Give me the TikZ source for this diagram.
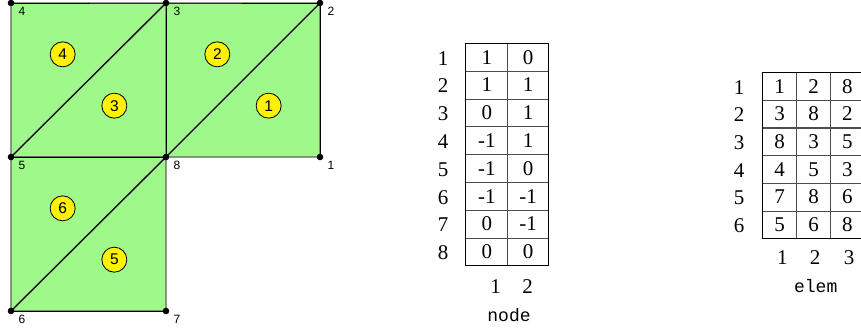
\documentclass[tikz,border=0pt]{standalone}
\usepackage{fontspec}
\setmainfont{Liberation Serif}
\setsansfont{Liberation Sans}
\setmonofont{Liberation Mono}
\usepackage{xcolor}
\usetikzlibrary{positioning, calc}
\definecolor{meshgreen}{RGB}{158,248,138}
\definecolor{edgegray}{RGB}{95,95,95}

\begin{document}
\begin{tikzpicture}[
  x=1pt, y=-1pt,
  tri/.style={fill=meshgreen, draw=edgegray, line width=1.4pt, line join=round},
  edge/.style={draw=black, line width=0.9pt},
  vtx/.style={circle, fill=black, inner sep=0pt, minimum size=6.6pt},
  vlab/.style={font=\sffamily\fontsize{12}{13}\selectfont, inner sep=0pt},
  elnum/.style={circle, draw=black, fill=yellow, line width=0.8pt, minimum size=25pt,
                inner sep=0pt, font=\sffamily\fontsize{15.5}{16}\selectfont},
  cell/.style={inner sep=0pt, minimum height=27.8pt, font=\fontsize{21}{22}\selectfont},
  idx/.style={inner sep=0pt, font=\fontsize{21}{22}\selectfont},
  tname/.style={inner sep=0pt, font=\ttfamily\fontsize{18}{18}\selectfont},
  tframe/.style={draw=black, line width=1pt},
  tline/.style={draw=black!70, line width=1.1pt}
]
\useasboundingbox (0,0) rectangle (861,330);
%% mesh vertices (picture coordinates, y downwards)
\coordinate (n1) at (320,157);
\coordinate (n2) at (320,3);
\coordinate (n3) at (166,3);
\coordinate (n4) at (11,3);
\coordinate (n5) at (11,157);
\coordinate (n6) at (11,311);
\coordinate (n7) at (166,311);
\coordinate (n8) at (166,157);
%% triangles
\filldraw[tri] (n1) -- (n2) -- (n8) -- cycle;
\filldraw[tri] (n3) -- (n8) -- (n2) -- cycle;
\filldraw[tri] (n8) -- (n3) -- (n5) -- cycle;
\filldraw[tri] (n4) -- (n5) -- (n3) -- cycle;
\filldraw[tri] (n7) -- (n8) -- (n6) -- cycle;
\filldraw[tri] (n5) -- (n6) -- (n8) -- cycle;
%% inner and dark edges
\draw[edge] (n4) -- (n3) -- (n2) -- (n1);
\draw[edge] (n5) -- (n8) -- (n3);
\draw[edge] (n5) -- (n3);
\draw[edge] (n8) -- (n2);
\draw[edge] (n6) -- (n8);
\draw[edge] (n6) -- (n7);
%% vertex dots and numbers
\foreach \n in {1,...,8} {
  \node[vtx] (d\n) at (n\n) {};
  \node[vlab, anchor=north west, below right=4pt and 7.3pt of n\n] (l\n) {\n};
}
%% element numbers at the triangle centroids
\node[elnum] (e1) at (barycentric cs:n1=1,n2=1,n8=1) {1};
\node[elnum] (e2) at (barycentric cs:n3=1,n8=1,n2=1) {2};
\node[elnum] (e3) at (barycentric cs:n8=1,n3=1,n5=1) {3};
\node[elnum] (e4) at (barycentric cs:n4=1,n5=1,n3=1) {4};
\node[elnum] (e5) at (barycentric cs:n7=1,n8=1,n6=1) {5};
\node[elnum] (e6) at (barycentric cs:n5=1,n6=1,n8=1) {6};
%% node table
\foreach \a/\b [count=\r] in {1/0,1/1,0/1,-1/1,-1/0,-1/-1,0/-1,0/0} {
  \node[cell, minimum width=41.5pt] (na\r) at (486.9, {29.4+27.8*\r}) {\a};
  \node[cell, minimum width=40.6pt] (nb\r) at (528, {29.4+27.8*\r}) {\b};
  \node[idx] (nr\r) at (443, {30.4+27.8*\r}) {\r};
}
\foreach \r in {1,...,7}
  \draw[tline] (na\r.south west) -- (nb\r.south east);
\draw[tline] (na1.north east) -- (na8.south east);
\draw[tframe] (na1.north west) rectangle (nb8.south east);
\node[idx] (nc1) at (495.7,287) {1};
\node[idx] (nc2) at (527.7,287) {2};
\node[tname] (nodename) at (509,315) {node};
%% elem table
\foreach \a/\b/\c [count=\r] in {1/2/8,3/8/2,8/3/5,4/5/3,7/8/6,5/6/8} {
  \node[cell, minimum width=34.4pt] (ea\r) at (779.5, {58.5+27.7*\r}) {\a};
  \node[cell, minimum width=33.6pt] (eb\r) at (813.5, {58.5+27.7*\r}) {\b};
  \node[cell, minimum width=34.2pt] (ec\r) at (847.4, {58.5+27.7*\r}) {\c};
  \node[idx] (er\r) at (739, {59.5+27.7*\r}) {\r};
}
\foreach \r in {1,...,5}
  \draw[tline] (ea\r.south west) -- (ec\r.south east);
\draw[tline] (ea1.north east) -- (ea6.south east);
\draw[tline] (eb1.north east) -- (eb6.south east);
\draw[tframe] (ea1.north west) rectangle (ec6.south east);
\node[idx] (ec1l) at (782.3,258) {1};
\node[idx] (ec2l) at (815,258) {2};
\node[idx] (ec3l) at (849,258) {3};
\node[tname] (elemname) at (815.7,286) {elem};
\end{tikzpicture}
\end{document}
